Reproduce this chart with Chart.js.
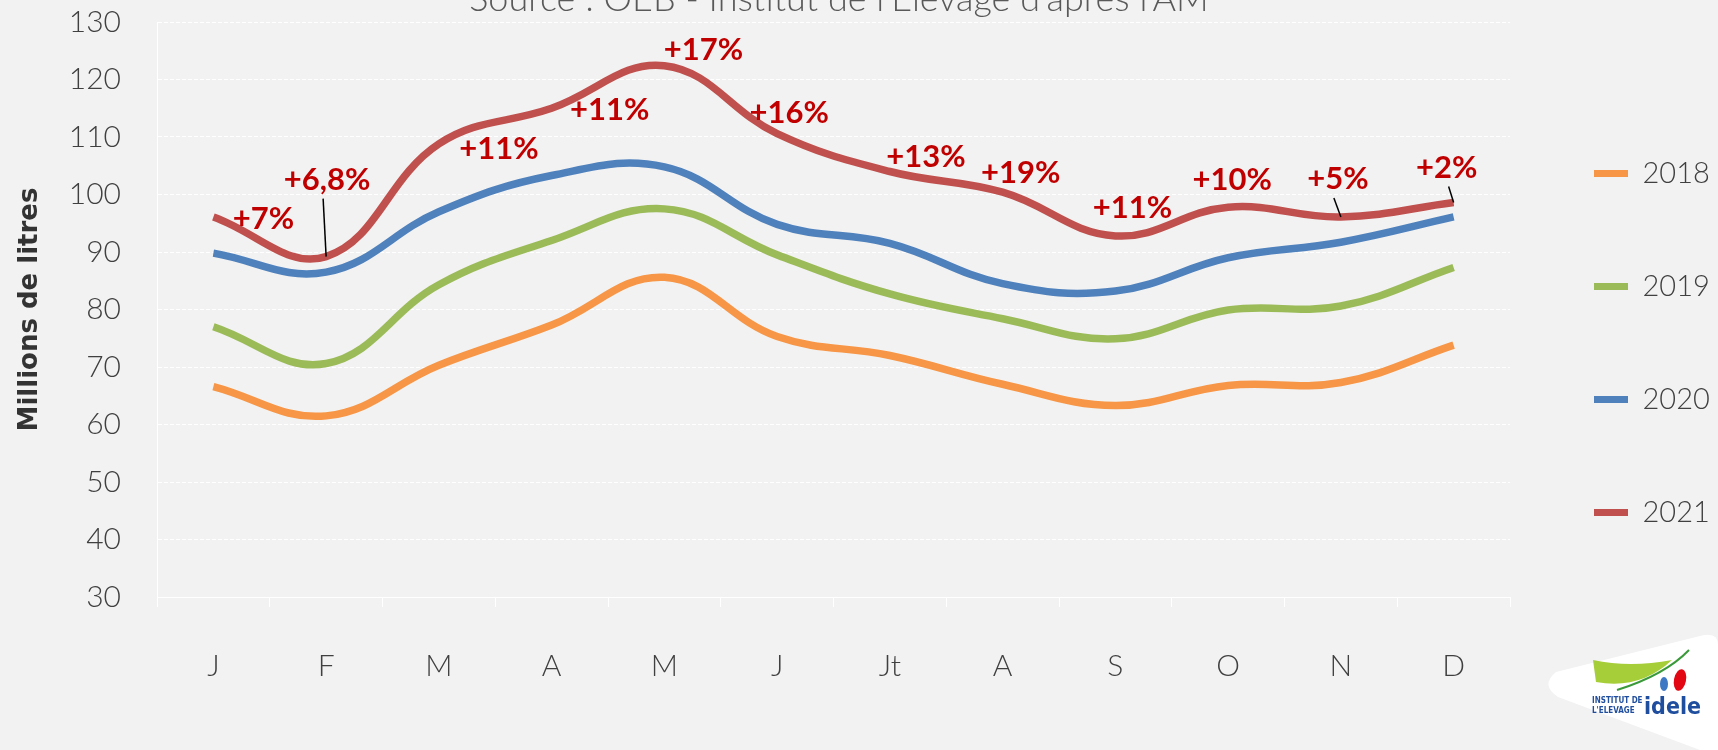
<!DOCTYPE html>
<html lang="fr">
<head>
<meta charset="utf-8">
<title>Collecte mensuelle de lait</title>
<script src="https://cdn.jsdelivr.net/npm/chart.js@4.4.1/dist/chart.umd.min.js"></script>
<style>
html, body { margin: 0; padding: 0; background: #f2f2f2; }
</style>
</head>
<body>
<canvas id="myChart" width="1718" height="750"></canvas>
<script>
let months = ['J', 'F', 'M', 'A', 'M', 'J', 'Jt', 'A', 'S', 'O', 'N', 'D'];
let v2018 = [66.6, 61.5, 70.3, 77.3, 85.6, 75.3, 72.0, 67.0, 63.3, 66.8, 67.3, 73.8];
let v2019 = [77.0, 70.6, 84.3, 92.0, 97.5, 89.5, 82.7, 78.4, 74.9, 79.9, 80.6, 87.3];
let v2020 = [89.8, 86.5, 97.0, 103.3, 104.8, 94.8, 91.5, 84.5, 83.2, 89.0, 91.7, 96.1];
let v2021 = [96.1, 89.2, 108.8, 115.0, 122.4, 110.6, 104.0, 100.4, 92.8, 97.8, 96.1, 98.6];
// variation 2021 / 2020 shown above the red line
let variations = ['+7%', '+6,8%', '+11%', '+11%', '+17%', '+16%', '+13%', '+19%', '+11%', '+10%', '+5%', '+2%'];
let sourceText = "Source : OEB - Institut de l'Elevage d'après l'AM";

// label offsets from the 2021 point: [dx, dy, leader start dx or null]
let labelOffsets = [
    [50, 2, null], [1, -77, -3], [60, 5, null], [58, 2, null],
    [39, -16, null], [12, -21, null], [36, -15, null], [18, -19, null],
    [17, -28, null], [4, -27, null], [-3, -38, -7], [-7, -35, -5]
];

const variationLabels = {
    id: 'variationLabels',
    afterDatasetsDraw(chart) {
        const ctx = chart.ctx;
        const xs = chart.scales.x, ys = chart.scales.y;
        ctx.save();
        ctx.font = 'bold 31px Lato';
        ctx.fillStyle = '#C00000';
        ctx.textAlign = 'center';
        ctx.textBaseline = 'middle';
        variations.forEach((txt, i) => {
            const px = xs.getPixelForValue(i);
            const py = ys.getPixelForValue(v2021[i]);
            const [dx, dy, lx] = labelOffsets[i];
            ctx.fillText(txt, px + dx, py + dy);
            if (lx !== null) {
                ctx.strokeStyle = '#000000';
                ctx.lineWidth = 1.5;
                ctx.beginPath();
                ctx.moveTo(px + lx, py + dy + 19);
                ctx.lineTo(px, py);
                ctx.stroke();
            }
        });
        ctx.restore();
    }
};

const decorations = {
    id: 'decorations',
    afterDraw(chart) {
        const ctx = chart.ctx;
        ctx.save();
        // source line, cut at the top of the picture
        ctx.font = '300 36px Lato';
        ctx.fillStyle = '#595959';
        ctx.textAlign = 'center';
        ctx.textBaseline = 'alphabetic';
        ctx.fillText(sourceText, 839, 11);

        // idele logo
        ctx.fillStyle = '#FFFFFF';
        ctx.beginPath();
        ctx.moveTo(1556, 672);
        ctx.lineTo(1700, 636);
        ctx.quadraticCurveTo(1718, 631, 1718, 645);
        ctx.lineTo(1718, 750);
        ctx.lineTo(1700, 750);
        ctx.lineTo(1558, 697);
        ctx.quadraticCurveTo(1540, 685, 1556, 672);
        ctx.fill();

        ctx.fillStyle = '#A6CE39';
        ctx.beginPath();
        ctx.moveTo(1593, 660);
        ctx.quadraticCurveTo(1630, 668, 1672, 660);
        ctx.quadraticCurveTo(1640, 690, 1596, 682);
        ctx.closePath();
        ctx.fill();
        ctx.strokeStyle = '#3A9A3A';
        ctx.lineWidth = 2;
        ctx.beginPath();
        ctx.moveTo(1617, 690);
        ctx.quadraticCurveTo(1665, 675, 1689, 650);
        ctx.stroke();
        ctx.fillStyle = '#E30613';
        ctx.beginPath();
        ctx.ellipse(1680, 680, 6, 11, 0.2, 0, Math.PI * 2);
        ctx.fill();
        ctx.fillStyle = '#3C78C3';
        ctx.beginPath();
        ctx.ellipse(1664, 684, 4, 7, 0, 0, Math.PI * 2);
        ctx.fill();

        ctx.fillStyle = '#1F4E9E';
        ctx.textAlign = 'left';
        ctx.font = 'bold 8px "DejaVu Sans Condensed", sans-serif';
        ctx.fillText('INSTITUT DE', 1592, 703);
        ctx.fillText("L'ELEVAGE", 1592, 713);
        ctx.font = 'bold 23px "DejaVu Sans Condensed", sans-serif';
        ctx.fillText('idele', 1644, 714);
        ctx.restore();
    }
};

let tickFont = { family: 'Lato', size: 30, weight: '300' };

new Chart(document.getElementById('myChart').getContext('2d'), {
    type: 'line',
    data: {
        labels: months,
        datasets: [
            { label: '2018', data: v2018, borderColor: '#F79646', backgroundColor: '#F79646' },
            { label: '2019', data: v2019, borderColor: '#9BBB59', backgroundColor: '#9BBB59' },
            { label: '2020', data: v2020, borderColor: '#4F81BD', backgroundColor: '#4F81BD' },
            { label: '2021', data: v2021, borderColor: '#C0504D', backgroundColor: '#C0504D' }
        ]
    },
    options: {
        responsive: false,
        animation: false,
        elements: {
            line: { borderWidth: 7.5, tension: 0.4, borderCapStyle: 'butt' },
            point: { radius: 0 }
        },
        layout: { padding: { top: 22, bottom: 53, left: 6, right: 0 } },
        scales: {
            x: {
                offset: true,
                grid: { offset: true, drawOnChartArea: false, color: '#FFFFFF', tickColor: '#FFFFFF', tickLength: 10 },
                border: { color: '#FFFFFF' },
                ticks: { padding: 41, color: '#404040', font: tickFont },
                afterFit(scale) {
                    scale.height = 100;
                    scale.paddingLeft = 0;
                    scale.paddingRight = 0;
                }
            },
            y: {
                min: 30,
                max: 130,
                ticks: { stepSize: 10, padding: 36, color: '#404040', font: tickFont },
                grid: { color: '#FFFFFF', drawTicks: false },
                border: { display: true, color: '#FFFFFF', dash: [4, 2] },
                title: {
                    display: true,
                    text: 'Millions de litres',
                    color: '#333333',
                    font: { family: 'DejaVu Sans', size: 26, weight: 'bold' },
                    padding: { top: 9, bottom: 24 }
                },
                afterFit(scale) {
                    scale.width = 151;
                    scale.paddingTop = 0;
                    scale.paddingBottom = 0;
                }
            }
        },
        plugins: {
            legend: {
                position: 'right',
                align: 'start',
                maxWidth: 208,
                // empty title only reserves the space above the first entry
                title: { display: true, text: '', font: { size: 10 }, padding: { top: 0, bottom: 41 } },
                labels: {
                    boxWidth: 34,
                    boxHeight: 7,
                    padding: 84,
                    color: '#404040',
                    font: { family: 'Lato', size: 29, weight: '300' },
                    generateLabels: chart => Chart.defaults.plugins.legend.labels.generateLabels(chart)
                        .map(item => Object.assign(item, { lineWidth: 0, fillStyle: item.strokeStyle }))
                }
            },
            tooltip: { enabled: false }
        }
    },
    plugins: [variationLabels, decorations]
});
</script>
</body>
</html>
